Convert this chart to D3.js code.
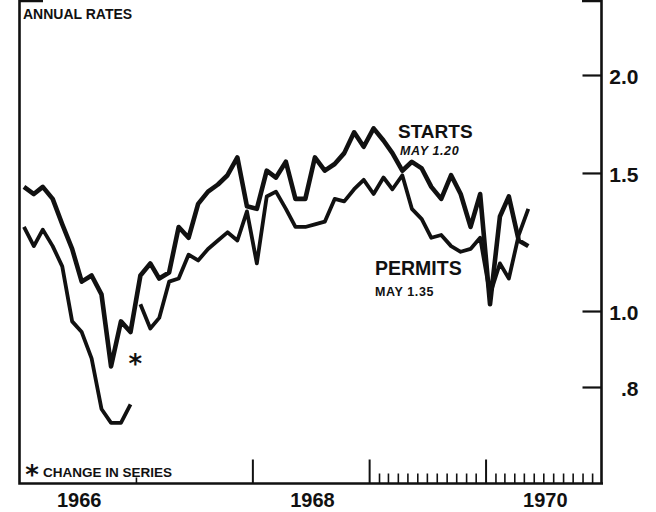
<!DOCTYPE html>
<html>
<head>
<meta charset="utf-8">
<script src="https://cdn.jsdelivr.net/npm/d3@7"></script>
<style>
  body { margin: 0; background: #fff; }
  svg { display: block; }
  text { font-family: "Liberation Sans", Arial, sans-serif; fill: #111; }
</style>
</head>
<body>
<div id="chart"></div>
<script>
// housing starts and permits, millions of units, seasonally adjusted annual rates
// monthly, Jan 1966 - May 1970
var starts = [1.44, 1.41, 1.44, 1.39, 1.29, 1.20, 1.09, 1.11, 1.05, 0.85, 0.97, 0.94,
              1.11, 1.15, 1.10, 1.12, 1.28, 1.24, 1.37, 1.42, 1.45, 1.49, 1.57, 1.36,
              1.35, 1.51, 1.48, 1.55, 1.39, 1.39, 1.57, 1.51, 1.54, 1.59, 1.69, 1.62,
              1.71, 1.65, 1.59, 1.51, 1.55, 1.52, 1.44, 1.39, 1.49, 1.41, 1.28, 1.41,
              1.02, 1.32, 1.40, 1.23, 1.21];
// permits: old series Jan-Dec 1966, new series from Jan 1967 (change in series)
var permitsOld = [1.28, 1.21, 1.27, 1.21, 1.14, 0.97, 0.94, 0.87, 0.75, 0.72, 0.72, 0.76];
var permitsNew = [1.02, 0.95, 0.98, 1.09, 1.10, 1.18, 1.16, 1.20, 1.23, 1.26, 1.23, 1.34,
                  1.15, 1.40, 1.42, 1.35, 1.28, 1.28, 1.29, 1.30, 1.39, 1.38, 1.43, 1.47,
                  1.41, 1.48, 1.43, 1.49, 1.35, 1.31, 1.24, 1.25, 1.21, 1.19, 1.20, 1.24,
                  1.05, 1.15, 1.10, 1.25, 1.35];
var yTicks = [0.8, 1.0, 1.5, 2.0];
var yearLabels = [1966, 1968, 1970];
var tallTicks = [1968, 1969, 1970];

var width = 656, height = 512;

var svg = d3.select("#chart").append("svg")
    .attr("width", width)
    .attr("height", height);

svg.append("rect").attr("width", width).attr("height", height).attr("fill", "#fff");

var left = 19.5, right = 601.5, bottom = 483.5;

var x = d3.scaleTime()
    .domain([new Date(1966, 0, 1), new Date(1971, 0, 1)])
    .range([left, 602]);

// ratio scale
var y = d3.scaleLog()
    .domain([0.8, 2.0])
    .range([387, 75]);

function monthly(values, y0, m0) {
  return values.map(function(v, i) { return {date: new Date(y0, m0 + i, 15), value: v}; });
}

var line = d3.line()
    .x(function(d) { return x(d.date); })
    .y(function(d) { return y(d.value); });

// frame
svg.append("path")
    .attr("d", "M43,1H" + left + "V" + bottom + "H603M582,1H" + right + "V" + bottom)
    .attr("fill", "none")
    .attr("stroke", "#111")
    .attr("stroke-width", 2.6);

// right scale
var yAxis = svg.append("g")
    .attr("transform", "translate(" + right + ",0)")
    .call(d3.axisRight(y)
      .tickValues(yTicks)
      .tickSize(-19)
      .tickPadding(0)
      .tickFormat(function(d) { return d3.format(".1f")(d).replace(/^0/, ""); }));
yAxis.select(".domain").remove();
yAxis.selectAll("line").attr("stroke", "#111").attr("stroke-width", 2.2);
yAxis.selectAll("text")
    .attr("x", 37)
    .attr("dy", "0.4em")
    .attr("text-anchor", "end")
    .style("font-family", "Liberation Sans, Arial, sans-serif")
    .style("font-size", "21px")
    .style("font-weight", "bold");

// time axis: monthly ticks from 1969 on, tall year ticks
var minor = svg.append("g")
    .attr("transform", "translate(0," + bottom + ")")
    .call(d3.axisBottom(x)
      .tickValues(d3.timeMonths(new Date(1969, 1, 1), new Date(1971, 0, 1)).filter(function(d) { return d.getMonth() != 0; }))
      .tickSize(-10)
      .tickFormat(""));
minor.select(".domain").remove();
minor.selectAll("line").attr("stroke", "#111").attr("stroke-width", 1.6);

var major = svg.append("g")
    .attr("transform", "translate(0," + bottom + ")")
    .call(d3.axisBottom(x)
      .tickValues(tallTicks.map(function(yr) { return new Date(yr, 0, 1); }))
      .tickSize(-24)
      .tickFormat(""));
major.select(".domain").remove();
major.selectAll("line").attr("stroke", "#111").attr("stroke-width", 2);

var small = svg.append("g")
    .attr("transform", "translate(0," + bottom + ")")
    .call(d3.axisBottom(x)
      .tickValues([new Date(1967, 0, 1)])
      .tickSize(-6)
      .tickFormat(""));
small.select(".domain").remove();
small.selectAll("line").attr("stroke", "#111").attr("stroke-width", 1.6);

svg.selectAll(".year")
    .data(yearLabels)
  .enter().append("text")
    .attr("class", "year")
    .attr("x", function(d) { return x(new Date(d, 6, 1)) + 2; })
    .attr("y", 507)
    .attr("text-anchor", "middle")
    .style("font-size", "20px")
    .style("font-weight", "bold")
    .text(function(d) { return d; });

// series
svg.append("path")
    .datum(monthly(starts, 1966, 0))
    .attr("fill", "none")
    .attr("stroke", "#111")
    .attr("stroke-width", 4.6)
    .attr("stroke-linejoin", "round")
    .attr("d", line);

[monthly(permitsOld, 1966, 0), monthly(permitsNew, 1967, 0)].forEach(function(seg) {
  svg.append("path")
      .datum(seg)
      .attr("fill", "none")
      .attr("stroke", "#111")
      .attr("stroke-width", 3.8)
      .attr("stroke-linejoin", "round")
      .attr("d", line);
});

// labels
svg.append("text").attr("x", 23).attr("y", 19)
    .style("font-size", "14px").style("font-weight", "bold")
    .text("ANNUAL RATES");

svg.append("text").attr("x", 398).attr("y", 137.5)
    .style("font-size", "19px").style("font-weight", "bold")
    .text("STARTS");
svg.append("text").attr("x", 400).attr("y", 155)
    .style("font-size", "12.5px").style("font-weight", "bold").style("font-style", "italic")
    .style("letter-spacing", "0.6px")
    .text("MAY 1.20");

svg.append("text").attr("x", 375).attr("y", 275)
    .style("font-size", "19.5px").style("font-weight", "bold")
    .text("PERMITS");
svg.append("text").attr("x", 375).attr("y", 296)
    .style("font-size", "12.5px").style("font-weight", "bold")
    .style("letter-spacing", "0.6px")
    .text("MAY 1.35");

// change in series marks
svg.append("text").attr("x", x(new Date(1967, 0, 15)) - 5).attr("y", 373)
    .attr("text-anchor", "middle")
    .style("font-family", "DejaVu Sans, sans-serif")
    .style("font-size", "26px").style("font-weight", "bold")
    .text("*");
svg.append("text").attr("x", 32).attr("y", 484)
    .attr("text-anchor", "middle")
    .style("font-family", "DejaVu Sans, sans-serif")
    .style("font-size", "26px").style("font-weight", "bold")
    .text("*");
svg.append("text").attr("x", 43).attr("y", 477)
    .style("font-size", "13.5px").style("font-weight", "bold")
    .text("CHANGE IN SERIES");
</script>
</body>
</html>
